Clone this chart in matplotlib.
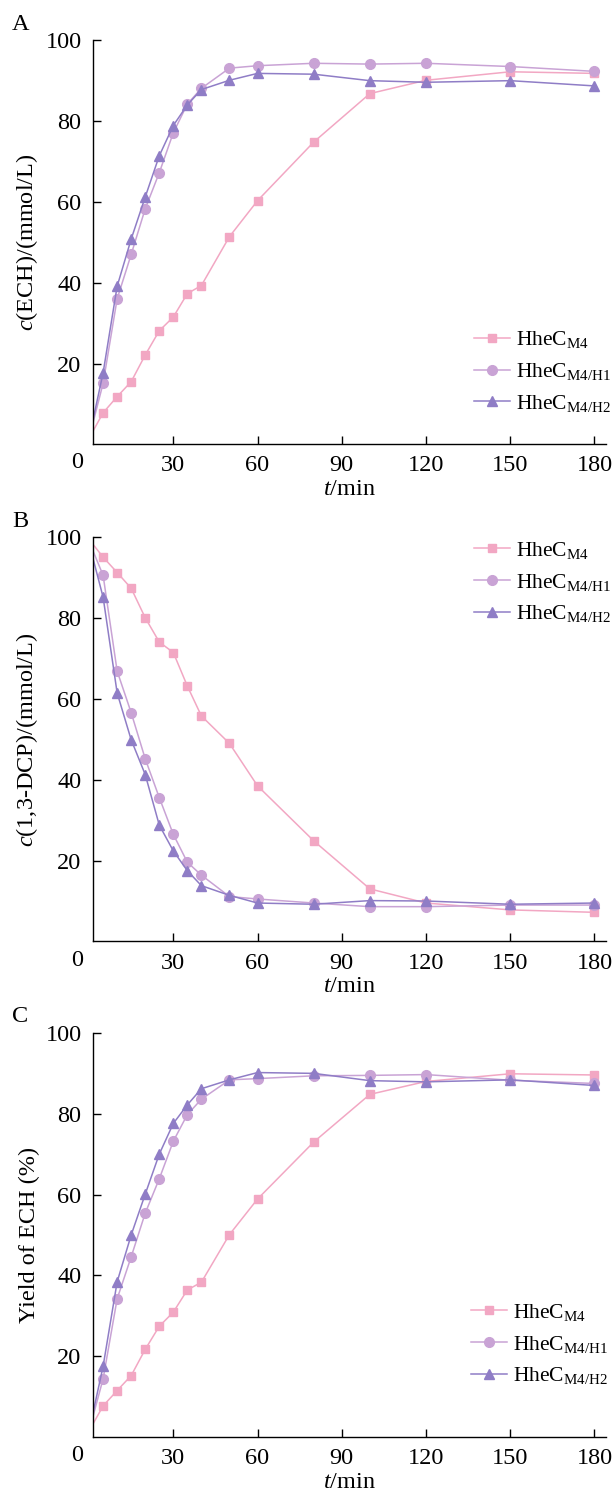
# ECH / 1,3-DCP time course for three HheC variants (panels A-C)
import numpy as np
import matplotlib
matplotlib.use('Agg')
import matplotlib.pyplot as plt

# Sampling times (min)
time_min = [0, 5, 10, 15, 20, 25, 30, 35, 40, 50, 60, 80, 100, 120, 150, 180]

series_names = [r'HheC$_{\mathregular{M4}}$',
                r'HheC$_{\mathregular{M4/H1}}$',
                r'HheC$_{\mathregular{M4/H2}}$']

# Panel A: c(ECH) in mmol/L
ech_m4 = [1.5, 7.8, 11.8, 15.5, 22.1, 28.1, 31.5, 37.3, 39.3, 51.4, 60.3, 74.8, 86.8, 90.1, 92.2, 91.8]
ech_h1 = [1.5, 15.1, 36.0, 47.0, 58.3, 67.2, 77.1, 84.2, 88.1, 93.1, 93.7, 94.3, 94.1, 94.3, 93.5, 92.3]
ech_h2 = [1.5, 17.7, 39.1, 50.8, 61.2, 71.4, 78.9, 84.0, 87.8, 90.1, 91.8, 91.6, 90.0, 89.6, 90.0, 88.7]

# Panel B: c(1,3-DCP) in mmol/L
dcp_m4 = [99.5, 95.1, 91.3, 87.4, 80.1, 74.1, 71.5, 63.2, 55.8, 49.0, 38.5, 24.9, 13.0, 9.5, 7.8, 7.2]
dcp_h1 = [99.0, 90.6, 66.9, 56.6, 45.2, 35.6, 26.5, 19.6, 16.4, 11.1, 10.5, 9.5, 8.6, 8.6, 9.0, 9.0]
dcp_h2 = [98.5, 85.2, 61.5, 49.9, 41.3, 28.8, 22.4, 17.5, 13.8, 11.4, 9.5, 9.2, 10.1, 10.0, 9.2, 9.5]

# Panel C: yield of ECH (%)
yld_m4 = [1.5, 7.7, 11.5, 15.2, 21.7, 27.4, 30.9, 36.4, 38.3, 50.1, 58.9, 73.0, 84.8, 88.0, 89.9, 89.6]
yld_h1 = [1.5, 14.4, 34.2, 44.6, 55.4, 63.9, 73.2, 79.8, 83.6, 88.4, 88.7, 89.4, 89.5, 89.7, 88.3, 87.5]
yld_h2 = [1.5, 17.5, 38.4, 50.0, 60.1, 70.0, 77.6, 82.2, 86.2, 88.4, 90.2, 90.0, 88.2, 87.9, 88.4, 87.0]

x_ticks = [30, 60, 90, 120, 150, 180]
y_ticks = [20, 40, 60, 80, 100]

colors = ['#F2A7C3', '#C9A3D5', '#8F7DC6']
markers = ['s', 'o', '^']
msizes = [5.5, 7, 7.5]

plt.rcParams['font.family'] = ['Liberation Serif', 'DejaVu Serif']
plt.rcParams['mathtext.fontset'] = 'custom'
plt.rcParams['mathtext.rm'] = 'Liberation Serif'
plt.rcParams['mathtext.it'] = 'Liberation Serif:italic'

FS = 17.5
LEG_FS = 15.5


def draw_panel(fig, rect, letter, ylabel, data, legend_xy):
    ax = fig.add_axes(rect)
    for vals, c, m, ms, name in zip(data, colors, markers, msizes, series_names):
        ax.plot(time_min, vals, color=c, marker=m, markersize=ms, lw=1.1,
                markevery=slice(1, None), label=name)

    ax.set_xlim(1.3, 184)
    ax.set_ylim(0, 100)
    ax.set_xticks(x_ticks)
    ax.set_yticks(y_ticks)
    ax.tick_params(direction='in', length=6, width=1, labelsize=FS, pad=8)
    for s in ['top', 'right']:
        ax.spines[s].set_visible(False)
    for s in ['left', 'bottom']:
        ax.spines[s].set_linewidth(1.0)

    # shared corner zero label
    ax.text(-0.03, -0.046, '0', transform=ax.transAxes, fontsize=FS,
            ha='center', va='center')
    ax.set_xlabel(r'$t$/min', fontsize=FS, labelpad=2)
    ax.set_ylabel(ylabel, fontsize=FS, labelpad=4)
    ax.text(-0.141, 1.04, letter, transform=ax.transAxes, fontsize=FS,
            ha='center', va='center')

    ax.legend(loc='center left', bbox_to_anchor=legend_xy, frameon=False,
              fontsize=LEG_FS, handlelength=1.7, handletextpad=0.25,
              labelspacing=0.5, borderpad=0, borderaxespad=0)
    return ax


def main():
    fig = plt.figure(figsize=(6.14, 14.91), dpi=100)
    left, width, height = 0.151, 0.8355, 0.271

    draw_panel(fig, [left, 0.702, width, height], 'A', r'$c$(ECH)/(mmol/L)',
               [ech_m4, ech_h1, ech_h2], (0.743, 0.18))
    draw_panel(fig, [left, 0.3686, width, height], 'B', r'$c$(1,3-DCP)/(mmol/L)',
               [dcp_m4, dcp_h1, dcp_h2], (0.743, 0.889))
    draw_panel(fig, [left, 0.0362, width, height], 'C', 'Yield of ECH (%)',
               [yld_m4, yld_h1, yld_h2], (0.737, 0.23))

    fig.savefig('out.png', dpi=100)

main()
